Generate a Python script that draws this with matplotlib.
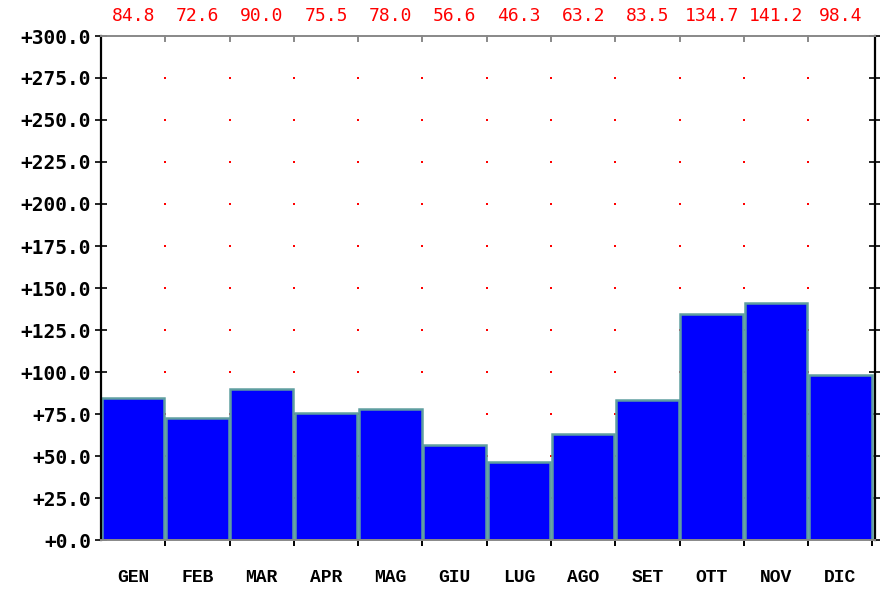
import matplotlib
matplotlib.use("Agg")
import matplotlib.pyplot as plt
import numpy as np

months = ["GEN", "FEB", "MAR", "APR", "MAG", "GIU", "LUG", "AGO", "SET", "OTT", "NOV", "DIC"]
values = [84.8, 72.6, 90.0, 75.5, 78.0, 56.6, 46.3, 63.2, 83.5, 134.7, 141.2, 98.4]
y_ticks = [0, 25, 50, 75, 100, 125, 150, 175, 200, 225, 250, 275, 300]

fig = plt.figure(figsize=(8.8, 5.89), dpi=100)
ax = fig.add_axes([101/880, 49/589, 774/880, 504/589])

n = len(months)
centers = np.arange(n) + 0.5
ax.set_xlim(0, n + 0.04)
ax.set_ylim(0, 300)

# red dotted grid at tick intersections
gx, gy = np.meshgrid(np.arange(1, n), y_ticks[1:-1])
ax.scatter(gx.ravel(), gy.ravel(), s=4, color="#ff0000", marker="s", linewidths=0, zorder=1)

ax.bar(centers, values, width=0.975, color="#0000ff", edgecolor="#5f9ea0", linewidth=1.8, zorder=2)

# value labels on top
for c, v in zip(centers, values):
    ax.annotate(f"{v:.1f}", xy=(c, 300), xytext=(0, 14.5), textcoords="offset points",
                ha="center", va="center", color="#ff0000",
                family="DejaVu Sans Mono", fontsize=13)

# spines
ax.spines["left"].set_color("black")
ax.spines["left"].set_linewidth(1.6)
ax.spines["right"].set_color("black")
ax.spines["right"].set_linewidth(1.6)
ax.spines["top"].set_color("#888888")
ax.spines["top"].set_linewidth(1.4)
ax.spines["bottom"].set_color("#888888")
ax.spines["bottom"].set_linewidth(1.4)

# y ticks
ax.set_yticks(y_ticks)
ax.set_yticklabels([f"+{t:.1f}" for t in y_ticks], family="DejaVu Sans Mono",
                   fontweight="bold", fontsize=14)
ax.tick_params(axis="y", which="major", direction="inout", length=8, width=1.2,
               left=True, right=True, pad=3, color="black")

# x ticks: boundaries (major, unlabeled), centers (minor, labeled)
ax.set_xticks(np.arange(1, n + 1))
ax.set_xticklabels([])
ax.set_xticks(centers, minor=True)
ax.set_xticklabels(months, minor=True, family="Liberation Mono", fontweight="bold", fontsize=13)
ax.tick_params(axis="x", which="major", direction="out", length=4, width=1.4,
               bottom=True, top=False, color="black")
ax.tick_params(axis="x", which="minor", length=0, pad=21)

# top inward ticks at boundaries (grey)
for b in range(1, n):
    ax.plot([b, b], [300, 297], color="#888888", lw=1.4, zorder=3, clip_on=False)

fig.savefig("out.png", dpi=100)
